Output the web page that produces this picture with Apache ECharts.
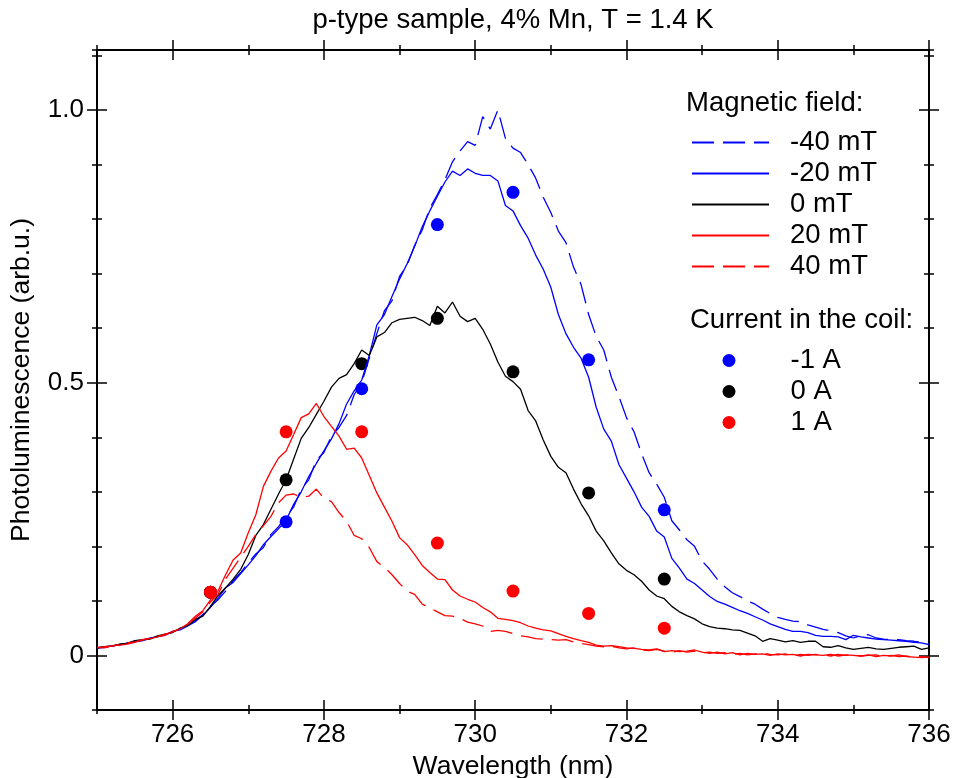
<!DOCTYPE html>
<html>
<head>
<meta charset="utf-8">
<script src="https://cdn.jsdelivr.net/npm/echarts@6/dist/echarts.min.js"></script>
<style>html,body{margin:0;padding:0;background:#fff}#c{width:954px;height:778px}</style>
</head>
<body>
<div id="c"></div>
<script>
// ---------------- data ----------------
const wavelength = [
725.0,725.1,725.2,725.3,725.4,725.5,725.6,725.7,725.8,725.9,
726.0,726.1,726.2,726.3,726.4,726.5,726.6,726.7,726.8,726.9,
727.0,727.1,727.2,727.3,727.4,727.5,727.6,727.7,727.8,727.9,
728.0,728.1,728.2,728.3,728.4,728.5,728.6,728.7,728.8,728.9,
729.0,729.1,729.2,729.3,729.4,729.5,729.6,729.7,729.8,729.9,
730.0,730.1,730.2,730.3,730.4,730.5,730.6,730.7,730.8,730.9,
731.0,731.1,731.2,731.3,731.4,731.5,731.6,731.7,731.8,731.9,
732.0,732.1,732.2,732.3,732.4,732.5,732.6,732.7,732.8,732.9,
733.0,733.1,733.2,733.3,733.4,733.5,733.6,733.7,733.8,733.9,
734.0,734.1,734.2,734.3,734.4,734.5,734.6,734.7,734.8,734.9,
735.0,735.1,735.2,735.3,735.4,735.5,735.6,735.7,735.8,735.9,
736.0];

const fieldMinus40 = [
0.014,0.016,0.017,0.020,0.022,0.026,0.027,0.031,0.035,0.037,
0.043,0.049,0.055,0.064,0.075,0.090,0.102,0.118,0.137,0.152,
0.170,0.186,0.198,0.222,0.236,0.255,0.272,0.305,0.322,0.358,
0.372,0.402,0.418,0.440,0.478,0.500,0.545,0.590,0.632,0.650,
0.695,0.715,0.752,0.780,0.820,0.845,0.872,0.905,0.925,0.942,
0.935,0.988,0.965,1.000,0.948,0.930,0.922,0.900,0.875,0.840,
0.812,0.778,0.757,0.712,0.680,0.625,0.585,0.560,0.510,0.475,
0.436,0.410,0.370,0.335,0.314,0.290,0.247,0.230,0.212,0.200,
0.173,0.158,0.140,0.126,0.115,0.108,0.100,0.094,0.085,0.077,
0.070,0.066,0.063,0.062,0.056,0.052,0.048,0.045,0.042,0.036,
0.032,0.036,0.038,0.032,0.030,0.029,0.029,0.027,0.026,0.024,
0.020];

const fieldMinus20 = [
0.013,0.015,0.018,0.019,0.023,0.025,0.028,0.032,0.034,0.038,
0.044,0.047,0.054,0.062,0.074,0.088,0.105,0.124,0.134,0.150,
0.166,0.183,0.203,0.218,0.232,0.248,0.277,0.300,0.328,0.352,
0.375,0.397,0.425,0.461,0.485,0.505,0.550,0.606,0.625,0.658,
0.690,0.718,0.750,0.786,0.815,0.842,0.868,0.888,0.880,0.892,
0.884,0.880,0.880,0.870,0.825,0.815,0.788,0.765,0.734,0.708,
0.675,0.625,0.590,0.565,0.545,0.510,0.455,0.415,0.393,0.350,
0.325,0.300,0.272,0.255,0.228,0.217,0.178,0.160,0.140,0.132,
0.120,0.108,0.099,0.094,0.088,0.082,0.077,0.071,0.065,0.058,
0.053,0.048,0.044,0.044,0.042,0.037,0.035,0.035,0.034,0.029,
0.037,0.034,0.032,0.030,0.029,0.028,0.027,0.026,0.024,0.023,
0.020];

const field0 = [
0.014,0.016,0.017,0.021,0.022,0.027,0.029,0.030,0.036,0.039,
0.042,0.050,0.055,0.066,0.072,0.090,0.110,0.124,0.140,0.158,
0.185,0.220,0.240,0.268,0.296,0.322,0.360,0.398,0.418,0.442,
0.466,0.492,0.508,0.515,0.535,0.560,0.550,0.584,0.592,0.610,
0.616,0.618,0.620,0.614,0.605,0.640,0.628,0.648,0.622,0.612,
0.618,0.598,0.571,0.538,0.512,0.502,0.488,0.449,0.430,0.395,
0.365,0.345,0.335,0.305,0.278,0.256,0.228,0.210,0.188,0.168,
0.156,0.148,0.136,0.120,0.109,0.104,0.090,0.080,0.073,0.067,
0.058,0.053,0.050,0.049,0.047,0.046,0.041,0.036,0.026,0.031,
0.028,0.025,0.027,0.024,0.026,0.026,0.016,0.015,0.018,0.014,
0.011,0.013,0.015,0.012,0.011,0.013,0.015,0.016,0.017,0.011,
0.014];

const fieldPlus20 = [
0.015,0.014,0.018,0.019,0.021,0.024,0.029,0.031,0.034,0.039,
0.043,0.049,0.058,0.072,0.082,0.102,0.118,0.148,0.175,0.188,
0.225,0.258,0.310,0.338,0.362,0.375,0.405,0.436,0.443,0.462,
0.438,0.420,0.402,0.378,0.380,0.362,0.330,0.298,0.272,0.246,
0.216,0.203,0.185,0.165,0.152,0.140,0.139,0.120,0.109,0.103,
0.098,0.088,0.080,0.068,0.066,0.064,0.060,0.054,0.050,0.047,
0.045,0.040,0.035,0.031,0.027,0.024,0.019,0.017,0.018,0.016,
0.014,0.013,0.011,0.010,0.012,0.007,0.009,0.007,0.008,0.010,
0.006,0.004,0.006,0.003,0.005,0.001,0.004,0.002,0.003,0.000,
0.003,0.001,0.002,-0.001,0.002,0.001,0.000,0.002,-0.001,0.001,
0.000,-0.001,0.001,-0.002,0.000,-0.001,0.001,-0.002,-0.003,-0.004,
-0.003];

const fieldPlus40 = [
0.014,0.016,0.017,0.020,0.023,0.025,0.028,0.032,0.035,0.037,
0.044,0.048,0.057,0.068,0.080,0.098,0.112,0.140,0.160,0.180,
0.200,0.222,0.238,0.255,0.280,0.294,0.296,0.290,0.292,0.305,
0.288,0.282,0.262,0.246,0.220,0.214,0.198,0.172,0.162,0.148,
0.132,0.118,0.112,0.094,0.087,0.080,0.073,0.072,0.068,0.061,
0.058,0.054,0.044,0.046,0.044,0.040,0.036,0.034,0.031,0.030,
0.029,0.028,0.029,0.025,0.022,0.020,0.017,0.016,0.017,0.014,
0.012,0.014,0.010,0.009,0.011,0.008,0.006,0.009,0.006,0.008,
0.005,0.006,0.004,0.005,0.002,0.004,0.001,0.003,0.004,0.002,
0.001,0.003,-0.001,0.002,0.000,0.002,0.001,-0.001,0.002,0.000,
0.001,-0.001,0.000,0.001,-0.002,0.000,-0.002,-0.001,-0.003,-0.002,
-0.004];

const coilWavelength = [726.5, 727.5, 728.5, 729.5, 730.5, 731.5, 732.5];
const coilMinus1A = [0.116, 0.245, 0.489, 0.790, 0.849, 0.542, 0.267];
const coil0A      = [0.116, 0.322, 0.535, 0.618, 0.520, 0.298, 0.140];
const coilPlus1A  = [0.116, 0.410, 0.410, 0.206, 0.118, 0.077, 0.050];

const xMajorTicks = [726, 728, 730, 732, 734, 736];
const yMajorTicks = [0, 0.5, 1.0];

const lineNames = ['-40 mT', '-20 mT', '0 mT', '20 mT', '40 mT'];
const dotNames = ['-1 A', '0 A', '1 A'];

// ---------------- chart ----------------
const FONT = 'Liberation Sans, Arial, sans-serif';
const BLUE = '#0000ff', RED = '#ff0000', BLACK = '#000000';
const XMIN = 725, XMAX = 736, YMIN = -0.1, YMAX = 1.11;

function pairs(xs, ys) { return xs.map((x, i) => [x, ys[i]]); }

function baseAxis(extra) {
  return Object.assign({
    type: 'value', gridIndex: 0,
    splitLine: { show: false },
    axisLine: { show: false, onZero: false },
    axisLabel: { show: false },
    axisTick: { show: false }
  }, extra);
}
function tickSpec(inside, len, custom) {
  const t = { show: true, inside: inside, length: len, lineStyle: { color: BLACK, width: 1.5 } };
  if (custom) t.customValues = custom;
  return t;
}
const xs = (pos, tick, more) => baseAxis(Object.assign({ min: XMIN, max: XMAX, interval: 1, position: pos, axisTick: tick }, more || {}));
const ys = (pos, tick, more) => baseAxis(Object.assign({ min: YMIN, max: YMAX, interval: 0.1, position: pos, axisTick: tick }, more || {}));

const xAxes = [
  xs('bottom', tickSpec(true, 5), {
    axisLine: { show: true, onZero: false, lineStyle: { color: BLACK, width: 2 } },
    axisLabel: { show: true, customValues: xMajorTicks, fontSize: 26, fontFamily: FONT, color: BLACK, margin: 12 },
    name: 'Wavelength (nm)', nameLocation: 'middle', nameGap: 43,
    nameTextStyle: { fontSize: 26.5, fontFamily: FONT, color: BLACK }
  }),
  xs('bottom', tickSpec(false, 4)),
  xs('bottom', tickSpec(true, 10, xMajorTicks)),
  xs('bottom', tickSpec(false, 10, xMajorTicks)),
  xs('top', tickSpec(true, 5), { axisLine: { show: true, onZero: false, lineStyle: { color: BLACK, width: 2 } } }),
  xs('top', tickSpec(false, 5)),
  xs('top', tickSpec(true, 10, xMajorTicks)),
  xs('top', tickSpec(false, 10, xMajorTicks))
];
const yAxes = [
  ys('left', tickSpec(true, 5), {
    axisLine: { show: true, onZero: false, lineStyle: { color: BLACK, width: 2 } },
    axisLabel: { show: true, customValues: yMajorTicks, fontSize: 26, fontFamily: FONT, color: BLACK, margin: 13,
      formatter: v => (v === 0 ? '0' : v.toFixed(1)) },
    name: 'Photoluminescence (arb.u.)', nameLocation: 'middle', nameGap: 62, nameRotate: 90,
    nameTextStyle: { fontSize: 26.5, fontFamily: FONT, color: BLACK }
  }),
  ys('left', tickSpec(false, 5)),
  ys('left', tickSpec(true, 10, yMajorTicks)),
  ys('left', tickSpec(false, 10, yMajorTicks)),
  ys('right', tickSpec(true, 5), { axisLine: { show: true, onZero: false, lineStyle: { color: BLACK, width: 2 } } }),
  ys('right', tickSpec(false, 5)),
  ys('right', tickSpec(true, 10, yMajorTicks)),
  ys('right', tickSpec(false, 10, yMajorTicks))
];

function lineSeries(name, vals, color, dashed) {
  return {
    name: name, type: 'line', xAxisIndex: 0, yAxisIndex: 0,
    data: pairs(wavelength, vals), symbol: 'none', showSymbol: false,
    lineStyle: { color: color, width: 1.3, type: dashed ? [22, 9] : 'solid' },
    itemStyle: { color: color }, animation: false, silent: true
  };
}
function dotSeries(name, vals, color) {
  return {
    name: name, type: 'scatter', xAxisIndex: 0, yAxisIndex: 0,
    data: pairs(coilWavelength, vals), symbol: 'circle', symbolSize: 13,
    itemStyle: { color: color, opacity: 1 }, animation: false, silent: true
  };
}

const series = [
  lineSeries(lineNames[0], fieldMinus40, BLUE, true),
  lineSeries(lineNames[1], fieldMinus20, BLUE, false),
  lineSeries(lineNames[2], field0, BLACK, false),
  lineSeries(lineNames[3], fieldPlus20, RED, false),
  lineSeries(lineNames[4], fieldPlus40, RED, true),
  dotSeries(dotNames[0], coilMinus1A, BLUE),
  dotSeries(dotNames[1], coil0A, BLACK),
  dotSeries(dotNames[2], coilPlus1A, RED)
];

const titleText = { fontSize: 27.5, fontWeight: 'normal', fontFamily: FONT, color: BLACK };
const legendText = { fontSize: 27.5, fontFamily: FONT, color: BLACK, lineHeight: 31 };
const option = {
  backgroundColor: '#ffffff',
  animation: false,
  title: [
    { text: 'p-type sample, 4% Mn, T = 1.4 K', left: 513, top: 6, textAlign: 'center', padding: 0, textStyle: titleText },
    { text: 'Magnetic field:', left: 686, top: 89, padding: 0, textStyle: titleText },
    { text: 'Current in the coil:', left: 690, top: 306, padding: 0, textStyle: titleText }
  ],
  grid: { left: 97, right: 25, top: 50, bottom: 68, containLabel: false, outerBoundsMode: 'none' },
  xAxis: xAxes,
  yAxis: yAxes,
  legend: [
    { data: lineNames, orient: 'vertical', left: 691, top: 127, padding: 0, itemGap: 0,
      itemWidth: 77, itemHeight: 12, selectedMode: false,
      itemStyle: { opacity: 0 },
      textStyle: Object.assign({ padding: [0, 0, 0, 16] }, legendText) },
    { data: dotNames.map(n => ({ name: n, icon: 'circle' })), orient: 'vertical', left: 722.5, top: 345, padding: 0, itemGap: 0,
      itemWidth: 13, itemHeight: 13, selectedMode: false,
      textStyle: Object.assign({ padding: [0, 0, 0, 50] }, legendText) }
  ],
  series: series
};

const chart = echarts.init(document.getElementById('c'), null, { renderer: 'canvas' });
chart.setOption(option);
</script>
</body>
</html>
